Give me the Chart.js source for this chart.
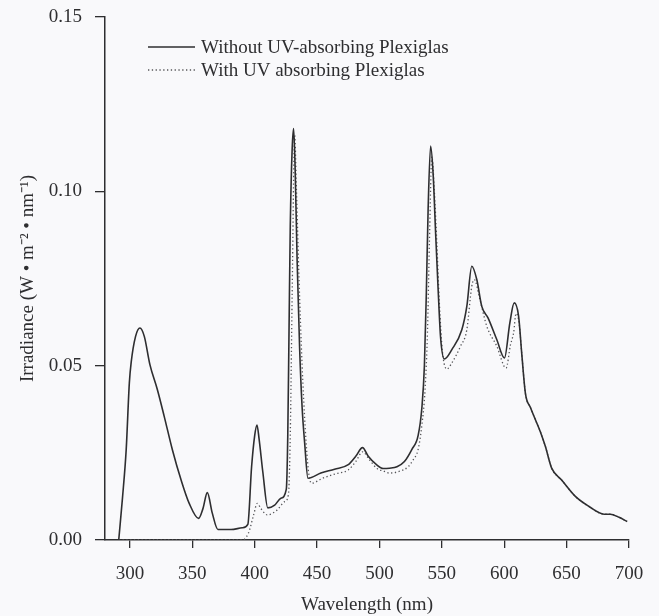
<!DOCTYPE html>
<html>
<head>
<meta charset="utf-8">
<script src="https://cdn.jsdelivr.net/npm/chart.js@4"></script>
<style>
  html, body { margin: 0; padding: 0; background: #f9f9fb; }
  #wrap { width: 659px; height: 616px; }
</style>
</head>
<body>
<div id="wrap"><canvas id="chart" width="659" height="616"></canvas></div>
<script>
// wavelength (nm) and irradiance (W m-2 nm-1)
const solidLabel = "Without UV-absorbing Plexiglas";
const solidWavelength = [291, 294, 297, 299.5, 301, 304.5, 308, 311.5, 316, 322, 327.5, 334, 341, 347.5, 355, 358.5, 362, 366, 370.5, 381, 390, 394.5, 397.5, 400, 401.8, 403.5, 406.5, 410.5, 416, 421, 425.3, 426.5, 427.5, 428.5, 430, 431.2, 432.5, 434, 436, 438, 440, 442.7, 453, 464, 475, 481, 486.4, 491, 497.6, 503, 508, 514, 520, 526, 531, 534, 536, 537.5, 539, 541, 543, 545, 547, 549, 552, 558, 566, 570, 574, 578, 582, 587, 594, 600.2, 604.5, 608, 611.5, 614, 617, 621, 625, 629, 633, 638, 646, 657, 668, 680, 685, 692, 698.5];
const solidIrradiance = [0, 0.012, 0.026, 0.045, 0.051, 0.0584, 0.0608, 0.0584, 0.0503, 0.0431, 0.0354, 0.0259, 0.0172, 0.0105, 0.0062, 0.009, 0.0136, 0.0077, 0.003, 0.003, 0.0035, 0.0045, 0.021, 0.030, 0.033, 0.029, 0.0195, 0.0092, 0.010, 0.012, 0.0145, 0.030, 0.060, 0.090, 0.112, 0.118, 0.105, 0.080, 0.055, 0.038, 0.028, 0.0177, 0.0192, 0.0203, 0.0216, 0.024, 0.0265, 0.024, 0.0216, 0.0205, 0.0206, 0.021, 0.0225, 0.026, 0.030, 0.038, 0.050, 0.070, 0.095, 0.113, 0.105, 0.088, 0.072, 0.058, 0.0519, 0.0546, 0.0603, 0.067, 0.0785, 0.0747, 0.067, 0.0637, 0.0575, 0.0522, 0.0623, 0.068, 0.0642, 0.0536, 0.042, 0.038, 0.0345, 0.031, 0.0268, 0.0206, 0.0172, 0.0125, 0.0096, 0.0074, 0.0074, 0.0065, 0.0053];

const dottedLabel = "With UV absorbing Plexiglas";
const dottedWavelength = [291, 390, 395, 399, 402, 405, 410, 418, 424, 427, 428.5, 430, 432, 433.5, 435.5, 438, 440.5, 443, 445.5, 455, 465, 475, 481, 486.5, 492, 498, 503, 508, 515, 523, 527, 531, 534, 536.5, 538.5, 540, 542, 544, 546, 548, 550.5, 554, 558, 565, 570, 574, 576, 580.5, 586, 594, 601.5, 605, 607.5, 609.5, 612, 614, 617, 621, 625, 629, 633, 638, 646, 657, 668, 680, 685, 692, 698.5];
const dottedIrradiance = [0, 0, 0.002, 0.007, 0.0105, 0.009, 0.0072, 0.0086, 0.011, 0.013, 0.030, 0.070, 0.116, 0.100, 0.075, 0.050, 0.032, 0.020, 0.0163, 0.0178, 0.019, 0.0201, 0.0225, 0.0253, 0.023, 0.0205, 0.0198, 0.0192, 0.0196, 0.021, 0.023, 0.026, 0.033, 0.043, 0.060, 0.085, 0.110, 0.100, 0.085, 0.068, 0.054, 0.049, 0.0508, 0.0556, 0.0603, 0.0728, 0.0747, 0.069, 0.0613, 0.0556, 0.0493, 0.056, 0.0594, 0.065, 0.062, 0.0536, 0.042, 0.038, 0.0345, 0.031, 0.0268, 0.0206, 0.0172, 0.0125, 0.0096, 0.0074, 0.0074, 0.0065, 0.0053];

const xTicks = [300, 350, 400, 450, 500, 550, 600, 650, 700];
const yTicks = [0, 0.05, 0.10, 0.15];

const INK = "#2e2e30";
const FONT = "'Liberation Serif', 'Times New Roman', serif";

function toPoints(xs, ys) {
  return xs.map((x, i) => ({ x: x, y: ys[i] }));
}

// legend sits inside the plot, top left, like the original figure
const insideLegend = {
  id: "insideLegend",
  afterDraw(chart) {
    const ctx = chart.ctx;
    const rows = [47, 70];
    ctx.save();
    ctx.font = "19px " + FONT;
    ctx.fillStyle = INK;
    ctx.textBaseline = "middle";
    chart.data.datasets.forEach((ds, i) => {
      const y = rows[i];
      ctx.beginPath();
      ctx.strokeStyle = ds.borderColor;
      ctx.lineWidth = ds.borderWidth;
      ctx.setLineDash(ds.borderDash || []);
      ctx.moveTo(148, y);
      ctx.lineTo(195, y);
      ctx.stroke();
      ctx.setLineDash([]);
      ctx.fillText(ds.label, 201, y + 1);
    });
    ctx.restore();
  },
};

new Chart(document.getElementById("chart"), {
  type: "line",
  data: {
    datasets: [
      {
        label: solidLabel,
        data: toPoints(solidWavelength, solidIrradiance),
        borderColor: INK,
        borderWidth: 1.6,
        pointRadius: 0,
        cubicInterpolationMode: "monotone",
      },
      {
        label: dottedLabel,
        data: toPoints(dottedWavelength, dottedIrradiance),
        borderColor: "#555558",
        borderWidth: 1.3,
        borderDash: [1.3, 2.5],
        pointRadius: 0,
        cubicInterpolationMode: "monotone",
      },
    ],
  },
  options: {
    responsive: false,
    animation: false,
    layout: { padding: { top: 17, right: 30, left: 0, bottom: 0 } },
    plugins: { legend: { display: false }, tooltip: { enabled: false } },
    scales: {
      x: {
        type: "linear",
        min: 280,
        max: 700,
        afterBuildTicks: (s) => { s.ticks = xTicks.map((v) => ({ value: v })); },
        afterFit: (s) => { s.height = 76; },
        grid: { drawOnChartArea: false, color: INK, tickLength: 8, lineWidth: 1.3 },
        border: { color: INK, width: 1.5 },
        ticks: { color: INK, font: { family: FONT, size: 19 }, padding: 15, maxRotation: 0 },
        title: {
          display: true,
          text: "Wavelength (nm)",
          color: INK,
          font: { family: FONT, size: 19, lineHeight: 1.0 },
          padding: { top: 0, bottom: 1 },
        },
      },
      y: {
        min: 0,
        max: 0.15,
        afterBuildTicks: (s) => { s.ticks = yTicks.map((v) => ({ value: v })); },
        afterFit: (s) => {
          s.width = 105;
          s.paddingTop = 0;
          s.paddingBottom = 0;
        },
        grid: { drawOnChartArea: false, color: INK, tickLength: 10, lineWidth: 1.3 },
        border: { color: INK, width: 1.5 },
        ticks: {
          color: INK,
          font: { family: FONT, size: 19 },
          padding: 13,
          callback: (v) => v.toFixed(2),
        },
        title: {
          display: true,
          text: "Irradiance (W \u2022 m\u207B\u00B2 \u2022 nm\u207B\u00B9)",
          color: INK,
          font: { family: FONT, size: 19 },
          padding: { top: 17, bottom: 0 },
        },
      },
    },
  },
  plugins: [insideLegend],
});
</script>
</body>
</html>
